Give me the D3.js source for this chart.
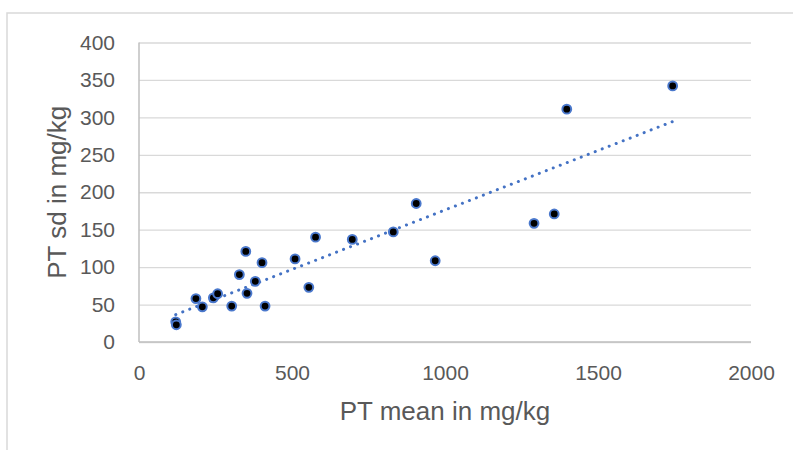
<!DOCTYPE html>
<html>
<head>
<meta charset="utf-8">
<script src="https://cdn.jsdelivr.net/npm/d3@7"></script>
<style>
  html, body { margin: 0; padding: 0; background: #fff; }
  svg { display: block; font-family: "Liberation Sans", Arial, sans-serif; }
</style>
</head>
<body>
<svg id="chart" width="793" height="450"></svg>
<script>
// Data
const ptMean = [120, 122, 186, 207, 243, 257, 303, 328, 349, 353, 380, 402, 412, 510, 555, 577, 697, 831, 906, 968, 1291, 1357, 1398, 1744];
const ptSd   = [27, 23, 58, 47, 59, 64.5, 48, 90, 121, 65, 81, 106, 48, 111, 73, 140, 137, 147, 185, 108.5, 158.5, 171, 311, 342];
const xTicks = [0, 500, 1000, 1500, 2000];
const yTicks = [0, 50, 100, 150, 200, 250, 300, 350, 400];
const xTitle = "PT mean in mg/kg";
const yTitle = "PT sd in mg/kg";

const svg = d3.select("#chart");
const W = 793, H = 450;
const plot = { left: 139, right: 751, top: 42.5, bottom: 342 };

// chart border
svg.append("rect")
  .attr("x", 7).attr("y", 13)
  .attr("width", W + 10).attr("height", H + 10)
  .attr("fill", "none").attr("stroke", "#d9d9d9").attr("stroke-width", 1.5);

const x = d3.scaleLinear().domain([0, 2000]).range([plot.left, plot.right]);
const y = d3.scaleLinear().domain([0, 400]).range([plot.bottom, plot.top]);

// gridlines
svg.append("g")
  .attr("transform", `translate(${plot.left},0)`)
  .call(d3.axisLeft(y).tickValues(yTicks).tickSize(-(plot.right - plot.left)).tickFormat(""))
  .call(g => g.select(".domain").remove())
  .call(g => g.selectAll("line").attr("stroke", "#d9d9d9").attr("stroke-width", 1.3));

// y axis labels
svg.append("g")
  .attr("transform", `translate(${plot.left},0)`)
  .call(d3.axisLeft(y).tickValues(yTicks).tickSize(0).tickPadding(24).tickFormat(d3.format("d")))
  .call(g => g.select(".domain").remove())
  .call(g => g.selectAll("text").attr("fill", "#595959").attr("font-size", 21).attr("font-family", "'Liberation Sans', Arial, sans-serif"));

// x axis labels
svg.append("g")
  .attr("transform", `translate(0,${plot.bottom})`)
  .call(d3.axisBottom(x).tickValues(xTicks).tickSize(0).tickPadding(23).tickFormat(d3.format("d")))
  .call(g => g.select(".domain").remove())
  .call(g => g.selectAll("text").attr("fill", "#595959").attr("font-size", 21).attr("font-family", "'Liberation Sans', Arial, sans-serif"));

// axis lines
svg.append("line")
  .attr("x1", plot.left).attr("x2", plot.right)
  .attr("y1", y(0)).attr("y2", y(0))
  .attr("stroke", "#bfbfbf").attr("stroke-width", 1.5);
svg.append("line")
  .attr("x1", plot.left).attr("x2", plot.left)
  .attr("y1", y(0)).attr("y2", y(400))
  .attr("stroke", "#bfbfbf").attr("stroke-width", 1.5);

// linear trendline (least squares)
const n = ptMean.length;
const mx = d3.mean(ptMean), my = d3.mean(ptSd);
let sxy = 0, sxx = 0;
for (let i = 0; i < n; i++) { sxy += (ptMean[i] - mx) * (ptSd[i] - my); sxx += (ptMean[i] - mx) ** 2; }
const slope = sxy / sxx, intercept = my - slope * mx;
const xMin = d3.min(ptMean), xMax = d3.max(ptMean);
svg.append("line")
  .attr("x1", x(xMin)).attr("y1", y(intercept + slope * xMin))
  .attr("x2", x(xMax)).attr("y2", y(intercept + slope * xMax))
  .attr("stroke", "#4472c4").attr("stroke-width", 3)
  .attr("stroke-linecap", "round")
  .attr("stroke-dasharray", "0.1 7.4");

// points
svg.append("g").selectAll("circle")
  .data(ptMean.map((v, i) => [v, ptSd[i]]))
  .join("circle")
  .attr("cx", d => x(d[0])).attr("cy", d => y(d[1]))
  .attr("r", 4.4)
  .attr("fill", "#000")
  .attr("stroke", "#4a78cc").attr("stroke-width", 2);

// axis titles
svg.append("text")
  .attr("x", (plot.left + plot.right) / 2).attr("y", 420)
  .attr("text-anchor", "middle")
  .attr("fill", "#595959").attr("font-size", 26)
  .text(xTitle);
svg.append("text")
  .attr("transform", `translate(66,${(plot.top + plot.bottom) / 2}) rotate(-90)`)
  .attr("text-anchor", "middle")
  .attr("fill", "#595959").attr("font-size", 26)
  .text(yTitle);
</script>
</body>
</html>
